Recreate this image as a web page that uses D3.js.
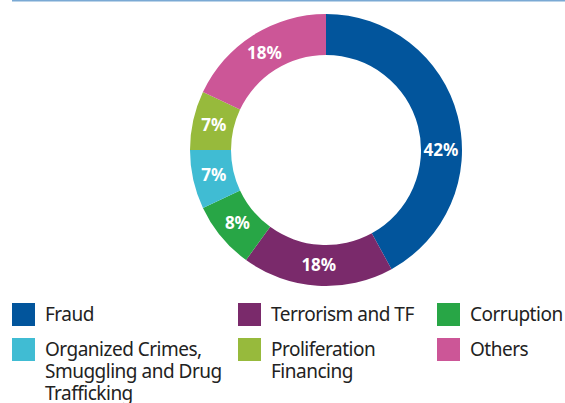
<!DOCTYPE html>
<meta charset="utf-8">
<style>
body { margin: 0; background: #fff; }
.slice-label {
    fill: #fff;
    font-family: "Noto Sans", sans-serif;
    font-weight: 700;
    font-size: 17px;
}
.legend text {
    fill: #222;
    font-family: "Noto Sans", sans-serif;
    font-size: 19px;
    letter-spacing: -0.5px;
}
</style>
<svg width="565" height="403"></svg>
<script src="https://d3js.org/d3.v7.min.js"></script>
<script>
    var categories = ["Fraud", "Terrorism and TF", "Corruption",
        "Organized Crimes, Smuggling and Drug Trafficking", "Proliferation Financing", "Others"];
    var values = [42, 18, 8, 7, 7, 18];
    var colors = ["#02559c", "#7a2a6b", "#28a646", "#40bcd3", "#97ba3c", "#cc5697"];

    // legend text broken the way the original wraps it
    var legendLines = [["Fraud"], ["Terrorism and TF"], ["Corruption"],
        ["Organized Crimes,", "Smuggling and Drug", "Trafficking"], ["Proliferation", "Financing"], ["Others"]];

    var svg = d3.select("svg");

    // thin rule at the very top
    svg.append("line")
        .attr("x1", 12).attr("x2", 565)
        .attr("y1", 0.5).attr("y2", 0.5)
        .style("stroke", "#7aa9d4")
        .style("stroke-width", 2);

    var cx = 326, cy = 150, outerR = 136, innerR = 95;
    var labelR = 115;

    var pie = d3.pie().sort(null).value(function(d) { return d; });
    var arc = d3.arc().innerRadius(innerR).outerRadius(outerR);

    var g = svg.append("g").attr("transform", "translate(" + cx + "," + cy + ")");
    var arcs = pie(values);

    g.selectAll("path")
        .data(arcs)
        .enter().append("path")
        .attr("d", arc)
        .attr("fill", function(d, i) { return colors[i]; });

    // label at mid angle, except a slice that covers 3 o'clock gets its label there
    function labelAngle(d) {
        var a = (d.startAngle + d.endAngle) / 2;
        if (d.startAngle <= Math.PI / 2 && d.endAngle >= Math.PI / 2) a = Math.PI / 2;
        return a;
    }

    g.selectAll("text")
        .data(arcs)
        .enter().append("text")
        .attr("class", "slice-label")
        .attr("x", function(d) { return labelR * Math.sin(labelAngle(d)); })
        .attr("y", function(d) { return -labelR * Math.cos(labelAngle(d)); })
        .attr("text-anchor", "middle")
        .attr("dy", "0.36em")
        .text(function(d) { return d.data + "%"; });

    // legend: 3 columns, 2 rows
    var colX = [12, 238, 437];
    var rowY = [303, 338];
    var legend = svg.append("g").attr("class", "legend");

    categories.forEach(function(c, i) {
        var x = colX[i % 3], y = rowY[Math.floor(i / 3)];
        legend.append("rect")
            .attr("x", x).attr("y", y)
            .attr("width", 23).attr("height", 23)
            .attr("fill", colors[i]);
        var t = legend.append("text")
            .attr("x", x + 33)
            .attr("y", y + 18);
        legendLines[i].forEach(function(line, j) {
            t.append("tspan")
                .attr("x", x + 33)
                .attr("dy", j === 0 ? 0 : 22.2)
                .text(line);
        });
    });
</script>
